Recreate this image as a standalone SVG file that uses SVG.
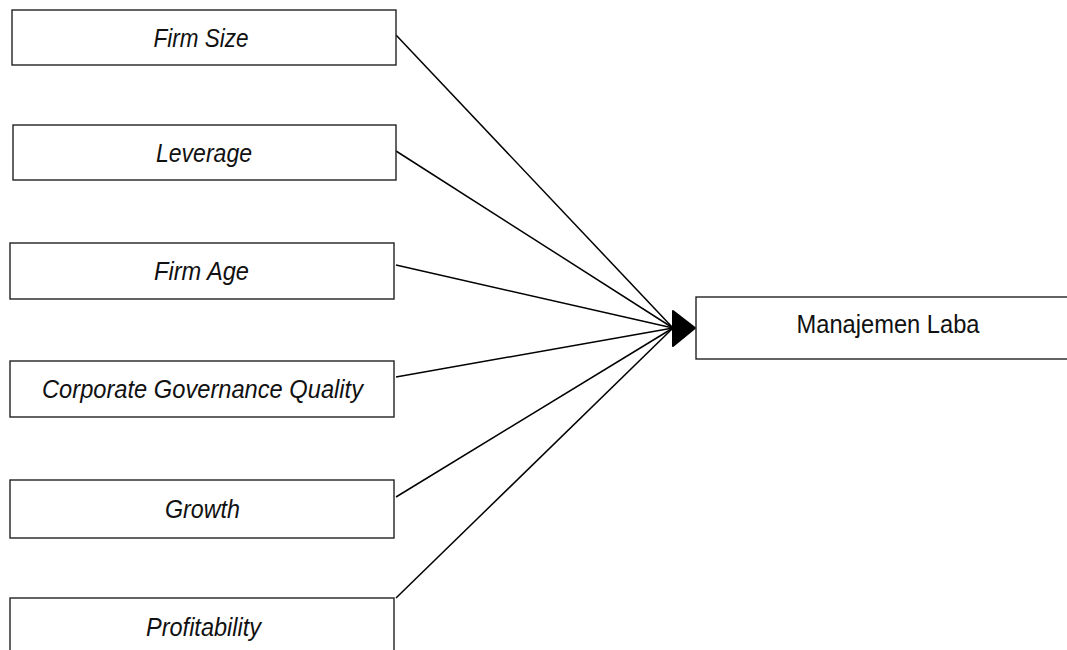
<svg xmlns="http://www.w3.org/2000/svg" width="1067" height="650" viewBox="0 0 1067 650">
<style>
.box{fill:#fff;stroke:#222;stroke-width:1.4}
.lbl{font-family:"Liberation Sans",Arial,sans-serif;font-size:26px;fill:#111;text-anchor:middle}
.it{font-style:italic}
.con{stroke:#000;stroke-width:1.5;fill:none}
.head{fill:#000;stroke:#000;stroke-width:2;stroke-linejoin:round}
</style>
<rect width="1067" height="650" fill="#fff"/>
<g id="connectors">
<line class="con" x1="396" y1="35" x2="673" y2="328"/>
<line class="con" x1="396" y1="151" x2="673" y2="328"/>
<line class="con" x1="396" y1="265" x2="673" y2="328"/>
<line class="con" x1="396" y1="377" x2="673" y2="328"/>
<line class="con" x1="396" y1="497" x2="673" y2="328"/>
<line class="con" x1="396" y1="598" x2="673" y2="328"/>
<polygon class="head" points="673,311 695,328 673,346"/>
</g>
<g id="firm-size"><rect class="box" x="12" y="10" width="384" height="55"/><text class="lbl it" x="201" y="46.5" textLength="95" lengthAdjust="spacingAndGlyphs">Firm Size</text></g>
<g id="leverage"><rect class="box" x="13" y="125" width="383" height="55"/><text class="lbl it" x="204" y="161.5" textLength="96" lengthAdjust="spacingAndGlyphs">Leverage</text></g>
<g id="firm-age"><rect class="box" x="10" y="243" width="384" height="56"/><text class="lbl it" x="201.5" y="280" textLength="95" lengthAdjust="spacingAndGlyphs">Firm Age</text></g>
<g id="cgq"><rect class="box" x="10" y="361" width="384" height="56"/><text class="lbl it" x="202.5" y="398" textLength="321" lengthAdjust="spacingAndGlyphs">Corporate Governance Quality</text></g>
<g id="growth"><rect class="box" x="10" y="480" width="384" height="58"/><text class="lbl it" x="202.5" y="518" textLength="75" lengthAdjust="spacingAndGlyphs">Growth</text></g>
<g id="profitability"><rect class="box" x="10" y="598" width="384" height="60"/><text class="lbl it" x="203.5" y="636" textLength="115" lengthAdjust="spacingAndGlyphs">Profitability</text></g>
<g id="manajemen-laba"><rect class="box" x="696" y="297" width="372" height="62"/><text class="lbl" x="888" y="333" textLength="183" lengthAdjust="spacingAndGlyphs">Manajemen Laba</text></g>
</svg>
